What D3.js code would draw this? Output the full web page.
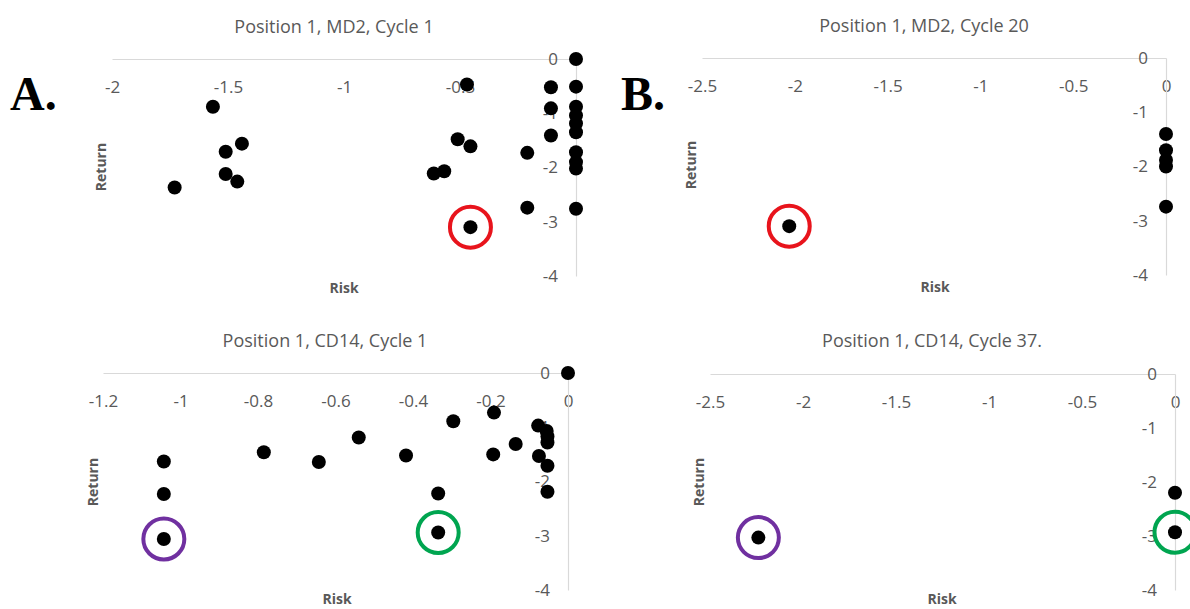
<!DOCTYPE html>
<html><head><meta charset="utf-8">
<script src="https://cdn.jsdelivr.net/npm/d3@7"></script>
<style>
html,body{margin:0;padding:0;background:#fff;}
svg{display:block;}
</style></head>
<body>
<svg id="chart" width="1190" height="609"></svg>
<script>
// ---- data ----
const panelTitles = ["Position 1, MD2, Cycle 1", "Position 1, MD2, Cycle 20", "Position 1, CD14, Cycle 1", "Position 1, CD14, Cycle 37."];
const panelLetters = ["A.", "B.", "", ""];
const xTicksA = [-2, -1.5, -1, -0.5, 0];
const xTicksB = [-2.5, -2, -1.5, -1, -0.5, 0];
const xTicksC = [-1.2, -1, -0.8, -0.6, -0.4, -0.2, 0];
const xTicksD = [-2.5, -2, -1.5, -1, -0.5, 0];
const yTicks = [0, -1, -2, -3, -4];

const riskA = [0, -0.47, -0.108, 0, -1.565, -0.108, 0, 0, 0, 0, -0.108, -1.44, -1.51, -0.51, -0.455, -0.21, 0, 0, 0, -0.568, -0.613, -1.51, -1.46, -1.73, -0.21, 0, -0.455];
const returnA = [0, -0.47, -0.52, -0.51, -0.88, -0.91, -0.88, -1.04, -1.19, -1.35, -1.41, -1.56, -1.71, -1.48, -1.61, -1.73, -1.72, -1.90, -2.02, -2.07, -2.11, -2.12, -2.26, -2.37, -2.74, -2.76, -3.10];
const riskB = [0, 0, 0, 0, 0, -2.03];
const returnB = [-1.40, -1.70, -1.88, -2.00, -2.74, -3.10];
const riskC = [0, -0.191, -0.296, -0.54, -0.785, -0.643, -0.418, -0.193, -0.135, -0.077, -0.055, -0.053, -0.053, -0.075, -0.053, -0.053, -1.043, -1.043, -1.043, -0.335, -0.335];
const returnC = [0, -0.73, -0.89, -1.19, -1.46, -1.64, -1.52, -1.50, -1.31, -0.97, -1.07, -1.17, -1.28, -1.53, -1.71, -2.19, -1.63, -2.23, -3.06, -2.22, -2.94];
const riskD = [0, 0, -2.24];
const returnD = [-2.20, -2.93, -3.03];

// highlighted points: [panel, risk, return, colour]
const highlightPanel = [0, 1, 2, 2, 3, 3];
const highlightRisk = [-0.455, -2.03, -1.043, -0.335, -2.24, 0];
const highlightReturn = [-3.10, -3.10, -3.06, -2.94, -3.03, -2.93];
const highlightColor = ["#e8141c", "#e8141c", "#7030a0", "#00a550", "#7030a0", "#00a550"];

// ---- layout ----
const panels = [
  {left: 112, top: 59, w: 464, h: 217, xDom: [-2, 0], ticks: xTicksA, risk: riskA, ret: returnA,
   title: [334, 33], letter: [10, 110], ylab: [100, 167], xlab: [344, 293]},
  {left: 702, top: 58, w: 464, h: 217, xDom: [-2.5, 0], ticks: xTicksB, risk: riskB, ret: returnB,
   title: [924, 32], letter: [621, 110], ylab: [690, 165], xlab: [935, 292]},
  {left: 103, top: 373, w: 465, h: 217, xDom: [-1.2, 0], ticks: xTicksC, risk: riskC, ret: returnC,
   title: [325, 347], letter: null, ylab: [92, 482], xlab: [337, 604]},
  {left: 710, top: 374, w: 465, h: 216, xDom: [-2.5, 0], ticks: xTicksD, risk: riskD, ret: returnD,
   title: [932, 347], letter: null, ylab: [698, 482], xlab: [942, 604]}
];

const svg = d3.select("#chart");
svg.append("rect").attr("width", 1190).attr("height", 609).attr("fill", "#fff");

const gray = "#595959";
const font = "'Open Sans', 'Liberation Sans', sans-serif";

panels.forEach((p, i) => {
  const x = d3.scaleLinear().domain(p.xDom).range([p.left, p.left + p.w]);
  const y = d3.scaleLinear().domain([-4, 0]).range([p.top + p.h, p.top]);
  p.x = x; p.y = y;

  // title
  svg.append("text").attr("x", p.title[0]).attr("y", p.title[1])
    .attr("text-anchor", "middle").attr("font-family", font).attr("font-size", 18)
    .attr("fill", gray).text(panelTitles[i]);

  // x axis (line at y=0, labels below)
  const gx = svg.append("g").attr("transform", `translate(0,${y(0)})`)
    .call(d3.axisBottom(x).tickValues(p.ticks).tickSize(0).tickPadding(22).tickFormat(d => String(d)));
  gx.select(".domain").attr("stroke", "#d9d9d9").attr("stroke-width", 1.2);
  gx.selectAll("text").attr("font-family", font).attr("font-size", 17).attr("fill", gray);

  // y axis (line at x=0, labels left)
  const gy = svg.append("g").attr("transform", `translate(${x(0)},0)`)
    .call(d3.axisLeft(y).tickValues(yTicks).tickSize(0).tickPadding(18).tickFormat(d => String(d)));
  gy.select(".domain").attr("stroke", "#d9d9d9").attr("stroke-width", 1.2);
  gy.selectAll("text").attr("font-family", font).attr("font-size", 17).attr("fill", gray);

  // axis titles
  svg.append("text").attr("transform", `translate(${p.ylab[0]},${p.ylab[1]}) rotate(-90)`)
    .attr("text-anchor", "middle").attr("dominant-baseline", "central")
    .attr("font-family", font).attr("font-weight", "bold").attr("font-size", 14)
    .attr("fill", gray).text("Return");
  svg.append("text").attr("x", p.xlab[0]).attr("y", p.xlab[1])
    .attr("text-anchor", "middle").attr("font-family", font).attr("font-weight", "bold")
    .attr("font-size", 14).attr("fill", gray).text("Risk");

  // points
  svg.append("g").selectAll("circle").data(d3.range(p.risk.length)).join("circle")
    .attr("cx", k => x(p.risk[k])).attr("cy", k => y(p.ret[k])).attr("r", 7).attr("fill", "#000");

  // panel letter
  if (panelLetters[i]) {
    svg.append("text").attr("x", p.letter[0]).attr("y", p.letter[1])
      .attr("font-family", "'Liberation Serif', 'Times New Roman', serif").attr("font-weight", "bold")
      .attr("font-size", 48).attr("fill", "#000").text(panelLetters[i]);
  }
});

// highlight rings
svg.append("g").selectAll("circle").data(d3.range(highlightPanel.length)).join("circle")
  .attr("cx", k => panels[highlightPanel[k]].x(highlightRisk[k]))
  .attr("cy", k => panels[highlightPanel[k]].y(highlightReturn[k]))
  .attr("r", 20.5).attr("fill", "none").attr("stroke", k => highlightColor[k]).attr("stroke-width", 4);
</script>
</body></html>
